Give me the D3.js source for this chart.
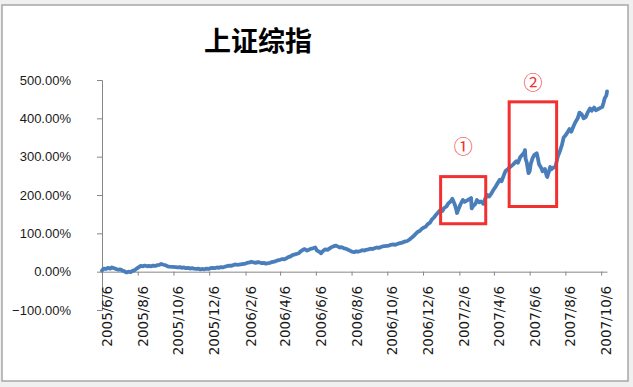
<!DOCTYPE html>
<html><head><meta charset="utf-8">
<script src="https://cdn.jsdelivr.net/npm/d3@7"></script>
<style>
html,body{margin:0;padding:0;background:#f0f0f0;}
svg{display:block;}
</style></head>
<body>
<script>
// ---- data ----
const title = "上证综指";
const dates = [
"2005-06-06","2005-06-09","2005-06-13","2005-06-16","2005-06-20","2005-06-23","2005-06-27","2005-06-30","2005-07-04","2005-07-07",
"2005-07-11","2005-07-14","2005-07-18","2005-07-21","2005-07-25","2005-07-28","2005-08-01","2005-08-04","2005-08-08","2005-08-11",
"2005-08-15","2005-08-18","2005-08-22","2005-08-25","2005-08-29","2005-09-01","2005-09-05","2005-09-08","2005-09-12","2005-09-15",
"2005-09-19","2005-09-22","2005-09-26","2005-09-29","2005-10-10","2005-10-13","2005-10-17","2005-10-20","2005-10-24","2005-10-27",
"2005-10-31","2005-11-03","2005-11-07","2005-11-10","2005-11-14","2005-11-17","2005-11-21","2005-11-24","2005-11-28","2005-12-01",
"2005-12-05","2005-12-08","2005-12-12","2005-12-15","2005-12-19","2005-12-22","2005-12-26","2005-12-29",
"2006-01-04","2006-01-09","2006-01-12","2006-01-16","2006-01-19","2006-01-23","2006-02-06","2006-02-09","2006-02-13","2006-02-16",
"2006-02-20","2006-02-23","2006-02-27","2006-03-02","2006-03-06","2006-03-09","2006-03-13","2006-03-16","2006-03-20","2006-03-23",
"2006-03-27","2006-03-30","2006-04-03","2006-04-06","2006-04-10","2006-04-13","2006-04-17","2006-04-20","2006-04-24","2006-04-27",
"2006-05-08","2006-05-11","2006-05-15","2006-05-18","2006-05-22","2006-05-25","2006-05-29","2006-06-01","2006-06-05","2006-06-08",
"2006-06-12","2006-06-15","2006-06-19","2006-06-22","2006-06-26","2006-06-29","2006-07-03","2006-07-06","2006-07-10","2006-07-13",
"2006-07-17","2006-07-20","2006-07-24","2006-07-27","2006-07-31","2006-08-03","2006-08-07","2006-08-10","2006-08-14","2006-08-17",
"2006-08-21","2006-08-24","2006-08-28","2006-08-31","2006-09-04","2006-09-07","2006-09-11","2006-09-14","2006-09-18","2006-09-21",
"2006-09-25","2006-09-28","2006-10-09","2006-10-12","2006-10-16","2006-10-19","2006-10-23","2006-10-26","2006-10-30","2006-11-02",
"2006-11-06","2006-11-09","2006-11-13","2006-11-16","2006-11-20","2006-11-23","2006-11-27","2006-11-30","2006-12-04","2006-12-07",
"2006-12-11","2006-12-14","2006-12-18","2006-12-21","2006-12-25","2006-12-28",
"2007-01-04","2007-01-08","2007-01-11","2007-01-15","2007-01-18","2007-01-22","2007-01-25","2007-01-29","2007-02-01","2007-02-02",
"2007-02-05","2007-02-08","2007-02-12","2007-02-15","2007-02-26","2007-02-27","2007-03-01","2007-03-05","2007-03-08","2007-03-12",
"2007-03-15","2007-03-19","2007-03-22","2007-03-26","2007-03-29","2007-04-02","2007-04-05","2007-04-09","2007-04-12","2007-04-16",
"2007-04-19","2007-04-23","2007-04-26","2007-04-30","2007-05-09","2007-05-14","2007-05-17","2007-05-21","2007-05-24","2007-05-28",
"2007-05-29","2007-05-30","2007-06-01","2007-06-04","2007-06-06","2007-06-08","2007-06-11","2007-06-14","2007-06-18","2007-06-20",
"2007-06-22","2007-06-26","2007-06-28","2007-07-02","2007-07-05","2007-07-06","2007-07-09","2007-07-11","2007-07-13","2007-07-17",
"2007-07-20","2007-07-24","2007-07-27","2007-07-31","2007-08-03","2007-08-06","2007-08-09","2007-08-13","2007-08-16","2007-08-20",
"2007-08-23","2007-08-27","2007-08-30","2007-09-03","2007-09-06","2007-09-10","2007-09-13","2007-09-17","2007-09-20","2007-09-24",
"2007-09-27","2007-10-08","2007-10-10","2007-10-12","2007-10-15","2007-10-16"
];
const values = [
3,8,7,10,8,11,9,7,5,6,
3,1,-2,0,-1,2,4,8,12,15,
14,16,14,15,14,16,15,17,18,20,
18,17,14,13,12,11,12,10,11,9,
10,8,9,8,7,8,6,7,6,8,
7,9,10,9,11,10,12,11,
14,16,15,17,19,18,21,23,24,26,
24,23,25,24,22,23,21,22,23,25,
26,28,30,31,33,32,35,38,40,43,
48,53,57,59,55,57,60,61,63,55,
52,48,55,58,57,60,64,66,68,66,
63,64,61,60,57,55,52,51,53,52,
54,56,55,57,58,60,59,61,63,62,
64,66,68,70,71,70,72,74,75,77,
79,80,84,88,93,98,104,106,112,115,
118,124,128,136,142,148,
160,158,166,170,178,183,190,176,160,153,
165,176,187,182,192,165,170,176,187,181,
183,177,190,200,196,205,213,222,230,240,
236,252,263,268,280,288,284,299,304,312,
317,295,285,257,262,282,296,305,309,296,
280,270,262,268,250,247,262,273,267,272,
274,300,312,330,350,355,362,372,365,380,
390,400,415,410,400,404,415,426,420,428,
421,430,440,452,460,470
];
const xTickLabels = ["2005/6/6","2005/8/6","2005/10/6","2005/12/6","2006/2/6","2006/4/6","2006/6/6","2006/8/6",
"2006/10/6","2006/12/6","2007/2/6","2007/4/6","2007/6/6","2007/8/6","2007/10/6"];
const yTicks = [-100,0,100,200,300,400,500];
// annotation boxes: [startDate, endDate, lowValue, highValue]
const boxStart = ["2007-01-05","2007-05-02"];
const boxEnd = ["2007-03-23","2007-07-22"];
const boxLow = [125,170];
const boxHigh = [248,443];
const boxLabels = ["①","②"];

// ---- drawing ----
const W = 633, H = 387;
const parse = d3.timeParse("%Y-%m-%d");
const parseTick = d3.timeParse("%Y/%-m/%-d");
const svg = d3.select("body").append("svg").attr("width", W).attr("height", H);

svg.append("rect").attr("x", 2).attr("y", 5).attr("width", 626).attr("height", 376)
  .attr("fill", "#fff").attr("stroke", "#a6a6a6").attr("stroke-width", 1.5);

svg.append("text").attr("x", 258).attr("y", 51).attr("text-anchor", "middle")
  .attr("font-family", "'Noto Sans CJK SC'").attr("font-weight", "bold").attr("font-size", 27)
  .attr("fill", "#000").text(title);

const x = d3.scaleTime().domain([parse("2005-06-06"), parse("2007-10-16")]).range([102, 607]);
const y = d3.scaleLinear().domain([-100, 500]).range([310, 80]);

// y axis
const yAxis = svg.append("g").attr("transform", "translate(102,0)")
  .call(d3.axisLeft(y).tickValues(yTicks).tickSize(5).tickFormat(d => d3.format(".2f")(d) + "%"));
yAxis.select(".domain").attr("stroke", "#868686");
yAxis.selectAll(".tick line").attr("stroke", "#868686");
yAxis.selectAll("text").attr("font-family", "'Liberation Sans', Arial, sans-serif").attr("font-size", 13)
  .attr("fill", "#1a1a1a").attr("x", -31);

// x axis at 0%
const tickDates = xTickLabels.map(parseTick);
const xAxis = svg.append("g").attr("transform", `translate(0,${y(0)})`)
  .call(d3.axisBottom(x).tickValues(tickDates).tickSize(4).tickSizeOuter(0).tickFormat(""));
xAxis.select(".domain").attr("stroke", "#868686");
xAxis.selectAll(".tick line").attr("stroke", "#868686");

svg.append("g").selectAll("text").data(xTickLabels).join("text")
  .attr("transform", (d, i) => `translate(${x(tickDates[i]) + 10},286) rotate(-90)`)
  .attr("text-anchor", "end")
  .attr("font-family", "'DejaVu Sans', sans-serif").attr("font-size", 13.5)
  .attr("fill", "#1a1a1a").text(d => d);

// line
const pts = dates.map((d, i) => ({ d: parse(d), v: values[i] }));
svg.append("path").datum(pts)
  .attr("fill", "none").attr("stroke", "#4a7ebb").attr("stroke-width", 3.8)
  .attr("stroke-linejoin", "round").attr("stroke-linecap", "round")
  .attr("d", d3.line().x(p => x(p.d)).y(p => y(p.v)));

// annotation boxes
const labelOffsets = [-31, -20];
boxStart.forEach((s, i) => {
  const x0 = x(parse(s)), x1 = x(parse(boxEnd[i]));
  const y0 = y(boxHigh[i]), y1 = y(boxLow[i]);
  svg.append("rect").attr("x", x0).attr("y", y0).attr("width", x1 - x0).attr("height", y1 - y0)
    .attr("fill", "none").attr("stroke", "#f23030").attr("stroke-width", 3);
  svg.append("text").attr("x", (x0 + x1) / 2).attr("y", y0 + labelOffsets[i])
    .attr("text-anchor", "middle").attr("dominant-baseline", "central")
    .attr("font-family", "'Noto Sans CJK SC'").attr("font-size", 19)
    .attr("fill", "#f23030").text(boxLabels[i]);
});
</script>
</body></html>
